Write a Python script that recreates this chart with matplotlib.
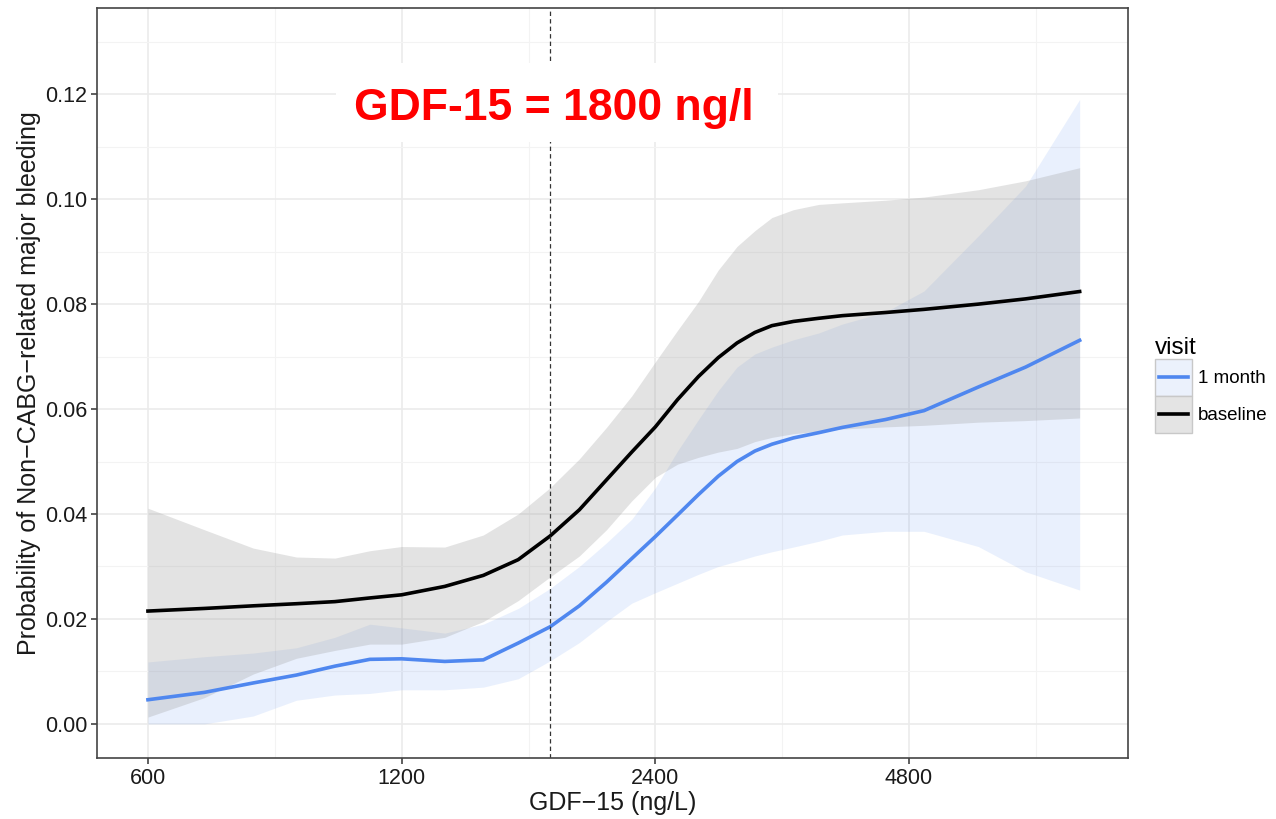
import numpy as np
import matplotlib.pyplot as plt
from matplotlib.patches import Rectangle
from matplotlib.lines import Line2D
from matplotlib.legend_handler import HandlerBase
from matplotlib.ticker import FixedLocator, FuncFormatter

plt.rcParams['font.family'] = ['Liberation Sans', 'DejaVu Sans']

# GDF-15 (ng/L) grid that the curves are read at
gdf = [600, 700, 800, 900, 1000, 1100, 1200, 1350, 1500, 1650, 1800, 1950, 2100,
       2250, 2400, 2550, 2700, 2850, 3000, 3150, 3300, 3500, 3750, 4000, 4500,
       5000, 5800, 6600, 7650]

# baseline visit: fit and confidence band
base_fit = [0.0215, 0.0220, 0.0225, 0.0229, 0.0233, 0.0240, 0.0246, 0.0262, 0.0283,
            0.0313, 0.0358, 0.0408, 0.0465, 0.0518, 0.0566, 0.0618, 0.0662, 0.0698,
            0.0726, 0.0746, 0.0759, 0.0767, 0.0773, 0.0778, 0.0784, 0.0790, 0.0800,
            0.0810, 0.0824]
base_lo = [0.0013, 0.0050, 0.0095, 0.0125, 0.0140, 0.0152, 0.0152, 0.0165, 0.0195,
           0.0235, 0.0280, 0.0320, 0.0370, 0.0425, 0.0470, 0.0495, 0.0508, 0.0518,
           0.0525, 0.0538, 0.0546, 0.0553, 0.0558, 0.0562, 0.0566, 0.0569, 0.0575,
           0.0578, 0.0583]
base_hi = [0.0411, 0.0370, 0.0335, 0.0318, 0.0316, 0.0330, 0.0338, 0.0337, 0.0360,
           0.0400, 0.0450, 0.0505, 0.0565, 0.0625, 0.0690, 0.0750, 0.0805, 0.0865,
           0.0910, 0.0940, 0.0965, 0.0980, 0.0990, 0.0993, 0.0998, 0.1004, 0.1018,
           0.1035, 0.1060]

# 1 month visit: fit and confidence band
month_fit = [0.0046, 0.0060, 0.0078, 0.0093, 0.0110, 0.0123, 0.0124, 0.0119, 0.0122,
             0.0154, 0.0185, 0.0225, 0.0270, 0.0315, 0.0357, 0.0398, 0.0437, 0.0472,
             0.0500, 0.0520, 0.0533, 0.0545, 0.0555, 0.0565, 0.0580, 0.0597, 0.0642,
             0.0680, 0.0731]
month_lo = [0.0000, 0.0000, 0.0015, 0.0045, 0.0055, 0.0058, 0.0065, 0.0065, 0.0070,
            0.0086, 0.0120, 0.0155, 0.0195, 0.0230, 0.0250, 0.0268, 0.0285, 0.0300,
            0.0310, 0.0320, 0.0328, 0.0337, 0.0348, 0.0360, 0.0367, 0.0367, 0.0338,
            0.0290, 0.0255]
month_hi = [0.0118, 0.0128, 0.0135, 0.0145, 0.0165, 0.0190, 0.0183, 0.0173, 0.0190,
            0.0220, 0.0258, 0.0300, 0.0345, 0.0390, 0.0450, 0.0520, 0.0580, 0.0635,
            0.0680, 0.0705, 0.0718, 0.0732, 0.0745, 0.0762, 0.0785, 0.0825, 0.0930,
            0.1025, 0.1190]

cutoff = 1800
xticks = [600, 1200, 2400, 4800]
yticks = [0.00, 0.02, 0.04, 0.06, 0.08, 0.10, 0.12]

blue = '#4f87ef'


class KeyHandler(HandlerBase):
    # ggplot-style legend key: filled square with a line through the middle
    def __init__(self, fill, line):
        super().__init__()
        self.fill = fill
        self.line = line

    def create_artists(self, legend, orig_handle, xdescent, ydescent, width, height,
                       fontsize, trans):
        box = Rectangle((-xdescent, -ydescent), width, height, facecolor=self.fill,
                        edgecolor='#c8c8c8', lw=1.0, transform=trans)
        ym = -ydescent + height / 2
        ln = Line2D([-xdescent + 0.1 * width, -xdescent + 0.9 * width], [ym, ym],
                    color=self.line, lw=2.6, transform=trans)
        return [box, ln]


fig = plt.figure(figsize=(12.76, 8.19), dpi=100)
ax = fig.add_axes([0.076, 0.0745, 0.808, 0.9155])

ax.fill_between(gdf, month_lo, month_hi, color=blue, alpha=0.12, linewidth=0)
ax.fill_between(gdf, base_lo, base_hi, color='#999999', alpha=0.27, linewidth=0)
ax.plot(gdf, month_fit, color=blue, lw=2.6)
ax.plot(gdf, base_fit, color='black', lw=2.6)
ax.axvline(cutoff, color='#333333', lw=0.9, ls=(0, (3.5, 2.5)))

ax.set_xscale('log', base=2)
ax.set_xlim(522, 8730)
ax.set_ylim(-0.0065, 0.1364)
ax.xaxis.set_major_locator(FixedLocator(xticks))
ax.xaxis.set_minor_locator(FixedLocator([t * np.sqrt(2) for t in xticks]))
ax.xaxis.set_major_formatter(FuncFormatter(lambda v, p: f'{v:.0f}'))
ax.xaxis.set_minor_formatter(FuncFormatter(lambda v, p: ''))
ax.set_yticks(yticks)
ax.set_yticks([y + 0.01 for y in yticks], minor=True)
ax.yaxis.set_major_formatter(FuncFormatter(lambda v, p: f'{v:.2f}'))

ax.grid(which='major', color='#ebebeb', lw=1.2)
ax.grid(which='minor', color='#f3f3f3', lw=0.8)
ax.set_axisbelow(True)
ax.tick_params(which='major', length=4, width=1.1, color='#333333',
               labelsize=15.5, labelcolor='#1a1a1a', pad=3)
ax.tick_params(which='minor', length=0)
for s in ax.spines.values():
    s.set_color('#444444')
    s.set_linewidth(1.2)

ax.set_xlabel('GDF\u221215 (ng/L)', fontsize=18, color='#1a1a1a', labelpad=2)
ax.set_ylabel('Probability of Non\u2212CABG\u2212related major bleeding',
              fontsize=18, color='#1a1a1a', labelpad=3)

# white box with the red annotation
fig.add_artist(Rectangle((0.2633, 0.8266), 0.3464, 0.0965, transform=fig.transFigure,
                         facecolor='white', edgecolor='none', zorder=2))
fig.text(0.4342, 0.868, 'GDF-15 = 1800 ng/l', color='#ff0000', fontsize=32,
         fontweight='bold', ha='center', va='center', zorder=3)

h_month = Line2D([], [], color=blue)
h_base = Line2D([], [], color='black')
leg = ax.legend([h_month, h_base], ['1 month', 'baseline'], title='visit',
                loc='upper left', bbox_to_anchor=(0.898, 0.600),
                bbox_transform=fig.transFigure, frameon=False, fontsize=13.5,
                title_fontsize=17.5, handlelength=1.97, handleheight=2.65,
                labelspacing=0.0, handletextpad=0.32, borderpad=0,
                alignment='left',
                handler_map={h_month: KeyHandler('#ebf1fc', blue),
                             h_base: KeyHandler('#e4e4e4', 'black')})

fig.savefig('out.png', dpi=100)
